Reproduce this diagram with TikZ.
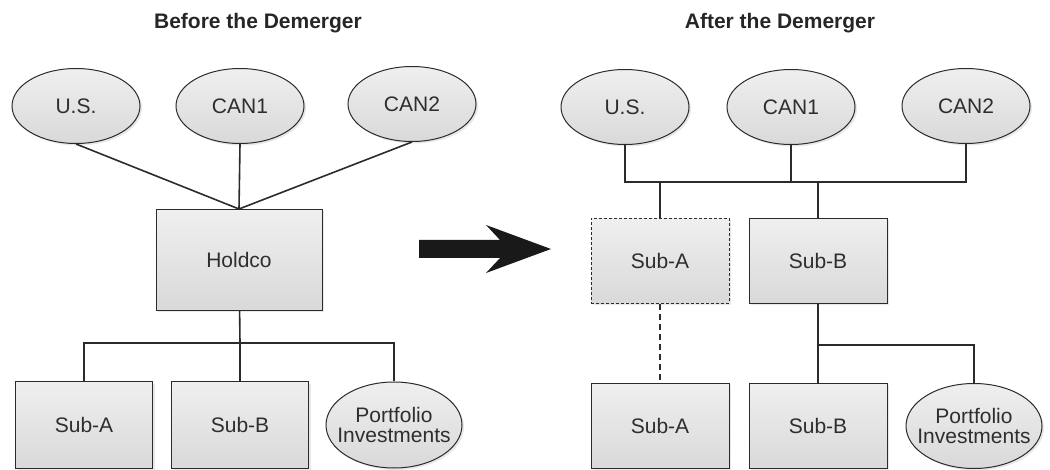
\documentclass[tikz,border=0pt]{standalone}
\usepackage{fontspec}
\setmainfont{Liberation Sans}
\usetikzlibrary{shapes.geometric,shadows}

\definecolor{inktext}{HTML}{2E2E2E}
\definecolor{inkline}{HTML}{2B2B2B}
\definecolor{filltop}{HTML}{EFEFEF}
\definecolor{fillbot}{HTML}{D9D9D9}

\tikzstyle{company} = [
    rectangle,
    minimum width=138pt,
    minimum height=85pt,
    text centered,
    draw=inkline,
    line width=1pt,
    top color=filltop,
    bottom color=fillbot,
    drop shadow={opacity=0.18, shadow xshift=2pt, shadow yshift=-2pt},
    text=inktext,
    font=\fontsize{21}{24}\selectfont,
]
\tikzstyle{holder} = [
    ellipse,
    minimum width=128pt,
    minimum height=75pt,
    inner sep=0pt,
    text centered,
    draw=inkline,
    line width=1pt,
    top color=filltop,
    bottom color=fillbot,
    drop shadow={opacity=0.18, shadow xshift=2pt, shadow yshift=-2pt},
    text=inktext,
    font=\fontsize{21}{24}\selectfont,
]
\tikzstyle{heading} = [
    font=\fontsize{21}{24}\selectfont\bfseries,
    text=black!85,
]
\tikzstyle{link} = [
    draw=inkline,
    line width=1.6pt,
]
\newcommand{\zw}[1]{\makebox[0pt]{#1}}

\begin{document}
\begin{tikzpicture}[x=1pt,y=-1pt]
        %%\draw[step=50,gray,very thin] (0,0) grid (1050,470);
        \useasboundingbox (0,0) rectangle (1050,470);
        \node (before) [heading] at (258,23) {Before the Demerger};
        \node (after) [heading] at (780,23) {After the Demerger};
        % before
        \node (usL) [holder] at (76,106) {U.S.};
        \node (canoneL) [holder] at (240,106) {CAN1};
        \node (cantwoL) [holder] at (412,104) {CAN2};
        \node (holdco) [company, minimum width=166pt, minimum height=101pt] at (239,260) {Holdco};
        \node (subaL) [company, minimum width=137pt, minimum height=86pt] at (84,425) {Sub-A};
        \node (subbL) [company, minimum width=137pt, minimum height=86pt] at (240,425) {Sub-B};
        \node (portL) [holder, minimum width=136pt, minimum height=86pt, align=center, font=\fontsize{21}{20}\selectfont] at (394,425) {\zw{Portfolio}\\\zw{Investments}};
        \draw [link] (usL.south) -- (holdco.north);
        \draw [link] (canoneL.south) -- (holdco.north);
        \draw [link] (cantwoL.south) -- (holdco.north);
        \coordinate (busL) at (240,343);
        \draw [link] (holdco) -- (busL) -| (subaL);
        \draw [link] (busL) -- (subbL);
        \draw [link] (busL) -| (portL);
        % big arrow
        \fill [black!90] (419,240) -- (500,240) -- (486,225) -- (551,249)
            -- (486,273) -- (500,258) -- (419,258) -- cycle;
        % after
        \node (usR) [holder] at (625,107) {U.S.};
        \node (canoneR) [holder] at (791,107) {CAN1};
        \node (cantwoR) [holder] at (966,106) {CAN2};
        \node (subaR) [company, dashed, dash pattern=on 3pt off 2pt] at (660,261) {Sub-A};
        \node (subbR) [company] at (818,261) {Sub-B};
        \node (subaR2) [company] at (660,426) {Sub-A};
        \node (subbR2) [company] at (818,426) {Sub-B};
        \node (portR) [holder, minimum width=136pt, minimum height=85pt, align=center, font=\fontsize{21}{20}\selectfont] at (974,426) {\zw{Portfolio}\\\zw{Investments}};
        \coordinate (busT) at (791,182);
        \draw [link] (usR.south) |- (busT) -| (cantwoR.south);
        \draw [link] (canoneR) -- (busT);
        \draw [link] (subaR.north |- busT) -- (subaR);
        \draw [link] (subbR.north |- busT) -- (subbR);
        \draw [link, dashed, dash pattern=on 6pt off 4pt] (subaR) -- (subaR2);
        \coordinate (busB) at (818,345);
        \draw [link] (subbR) -- (subbR2);
        \draw [link] (busB) -| (portR);
    \end{tikzpicture}
\end{document}
